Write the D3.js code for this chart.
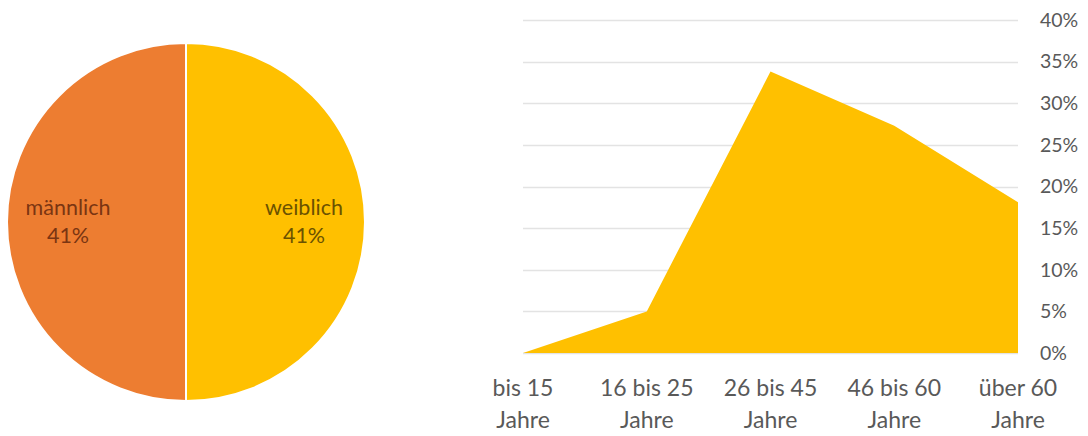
<!DOCTYPE html>
<html>
<head>
<meta charset="utf-8">
<script src="https://cdn.jsdelivr.net/npm/d3@7"></script>
<style>
  html, body { margin: 0; padding: 0; background: #fff; }
  svg { display: block; font-family: Lato, "Open Sans", sans-serif; }
</style>
</head>
<body>
<svg id="chart" width="1088" height="436"></svg>
<script>
// Gender split (pie)
const genderLabels = ["weiblich", "männlich"];
const genderShares = [0.41, 0.41];
const genderColors = ["#FFC000", "#ED7D31"];
const genderTextColors = ["#6b5200", "#7a3512"];

// Age distribution (area)
const ageGroups = ["bis 15 Jahre", "16 bis 25 Jahre", "26 bis 45 Jahre", "46 bis 60 Jahre", "über 60 Jahre"];
const ageShares = [0.0, 0.05, 0.338, 0.273, 0.181];
const yTicks = [0, 0.05, 0.10, 0.15, 0.20, 0.25, 0.30, 0.35, 0.40];

const svg = d3.select("#chart");

// ---- Pie ----
const cx = 186, cy = 222, R = 179;
const pie = d3.pie().sort(null).value(d => d)(genderShares);
const arc = d3.arc().innerRadius(0).outerRadius(R);
const labelArc = d3.arc().innerRadius(118).outerRadius(118);

const pg = svg.append("g").attr("transform", `translate(${cx},${cy})`);
pg.selectAll("path.slice")
  .data(pie)
  .join("path")
  .attr("class", "slice")
  .attr("d", arc)
  .attr("fill", (d, i) => genderColors[i])
  .attr("stroke", "#fff")
  .attr("stroke-width", 2);

const lbl = pg.selectAll("text.plabel")
  .data(pie)
  .join("text")
  .attr("class", "plabel")
  .attr("transform", d => { const c = labelArc.centroid(d); return `translate(${c[0]},${c[1]})`; })
  .attr("text-anchor", "middle")
  .attr("font-size", 21.5)
  .attr("fill", (d, i) => genderTextColors[i]);
lbl.append("tspan").attr("x", 0).attr("dy", "-0.32em").text((d, i) => genderLabels[i]);
lbl.append("tspan").attr("x", 0).attr("dy", "1.3em").text(d => d3.format(".0%")(d.data));

// ---- Area ----
const x = d3.scalePoint().domain(ageGroups).range([523, 1018]);
const y = d3.scaleLinear().domain([0, 0.40]).range([353, 20]);

const grid = svg.append("g");
grid.selectAll("line")
  .data(yTicks)
  .join("line")
  .attr("x1", 523).attr("x2", 1018)
  .attr("y1", d => Math.round(y(d)) + 0.5).attr("y2", d => Math.round(y(d)) + 0.5)
  .attr("stroke", "#e3e3e3")
  .attr("stroke-width", 1.5);

const area = d3.area()
  .x((d, i) => x(ageGroups[i]))
  .y0(y(0))
  .y1(d => y(d));

svg.append("path")
  .datum(ageShares)
  .attr("d", area)
  .attr("fill", "#FFC000");

// y-axis labels on the right
svg.append("g").selectAll("text")
  .data(yTicks)
  .join("text")
  .attr("x", 1040)
  .attr("y", d => y(d))
  .attr("dy", "0.35em")
  .attr("font-size", 19.5)
  .attr("fill", "#595959")
  .text(d => d3.format(".0%")(d));

// category labels, split in two lines
const xl = svg.append("g").selectAll("text")
  .data(ageGroups)
  .join("text")
  .attr("transform", d => `translate(${x(d)},0)`)
  .attr("text-anchor", "middle")
  .attr("font-size", 23)
  .attr("fill", "#595959");
xl.append("tspan").attr("x", 0).attr("y", 396).text(d => d.slice(0, d.lastIndexOf(" ")));
xl.append("tspan").attr("x", 0).attr("y", 428).text(d => d.slice(d.lastIndexOf(" ") + 1));
</script>
</body>
</html>
